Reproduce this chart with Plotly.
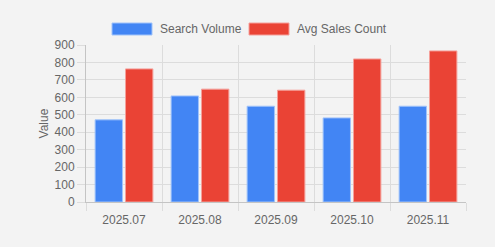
import plotly.graph_objects as go

categories = ["2025.07", "2025.08", "2025.09", "2025.10", "2025.11"]
search_volume = [471, 608, 549, 482, 549]
avg_sales_count = [763, 647, 641, 820, 866]
series_names = ["Search Volume", "Avg Sales Count"]
colors = ["#4285F4", "#EA4335"]
borders = ["rgba(160,195,250,1)", "rgba(245,160,155,1)"]
y_ticks = [0, 100, 200, 300, 400, 500, 600, 700, 800, 900]

FONT = "Liberation Sans, Arial, Helvetica, sans-serif"
TXT = "#666666"
GRID = "#dcdcdc"

fig = go.Figure()
for name, vals, c, b in zip(series_names, [search_volume, avg_sales_count], colors, borders):
    fig.add_trace(go.Bar(x=categories, y=vals, name=name,
                         marker=dict(color=c, line=dict(color=b, width=1)),
                         showlegend=False))

# custom legend (Chart.js style wide boxes)
leg_items = [(series_names[0], colors[0], borders[0], 112, 152, 158),
             (series_names[1], colors[1], borders[1], 249, 289, 295)]
W, H = 495, 247
for name, c, b, x0, x1, tx in leg_items:
    fig.add_shape(type="rect", xref="paper", yref="paper",
                  x0=(x0 - 86) / 380, x1=(x1 - 86) / 380,
                  y0=(202 - 35) / 157, y1=(202 - 23) / 157,
                  fillcolor=c, line=dict(color=b, width=1))
    fig.add_annotation(text=name, xref="paper", yref="paper",
                       x=(tx - 86) / 380, y=(202 - 29) / 157,
                       xanchor="left", yanchor="middle", showarrow=False,
                       font=dict(family=FONT, size=12, color=TXT))

fig.update_layout(
    width=W, height=H,
    margin=dict(l=86, r=29, t=45, b=45),
    paper_bgcolor="#f3f3f3", plot_bgcolor="#f3f3f3",
    bargap=0.2, bargroupgap=0.1,
    font=dict(family=FONT, size=12, color=TXT),
    xaxis=dict(type="category", tickson="boundaries", showgrid=True, gridcolor=GRID,
               ticks="outside", ticklen=8, tickcolor=GRID, showline=True,
               linecolor="#c4c4c4", linewidth=1, ticklabelstandoff=7,
               tickfont=dict(family=FONT, size=12, color=TXT)),
    yaxis=dict(range=[0, 900], tickvals=y_ticks, showgrid=True, gridcolor=GRID,
               ticks="outside", ticklen=8, tickcolor=GRID, showline=True,
               linecolor="#c4c4c4", linewidth=1, zeroline=False,
               title=dict(text="Value", font=dict(family=FONT, size=12, color=TXT), standoff=3),
               tickfont=dict(family=FONT, size=12, color=TXT)),
)

fig.write_html("out.html")
